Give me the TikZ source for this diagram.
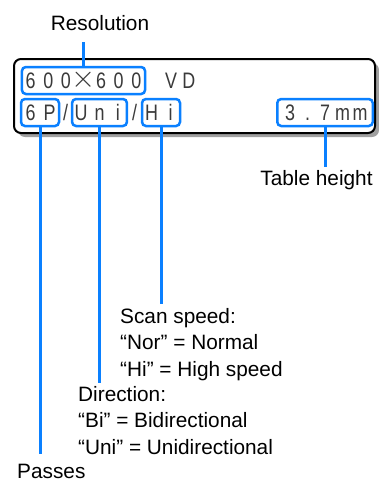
\documentclass[tikz,border=0pt]{standalone}
\usepackage{fontspec}
\setmainfont{Liberation Sans}
\newfontfamily\lcdfont[FakeStretch=0.8]{Liberation Sans}
\usetikzlibrary{positioning,shadows}
\definecolor{lcdBlue}{HTML}{0A80FF}
\definecolor{lcdInk}{HTML}{3A3A3A}
\definecolor{lcdShadow}{HTML}{A0A0A0}
% fixed-pitch cells for the display characters
\newlength\lcdpitch
\def\lcdrun#1{\ifx#1\relax\else\makebox[\lcdpitch]{#1}\expandafter\lcdrun\fi}
\newcommand\lcdtext[2]{\setlength\lcdpitch{#1pt}\lcdrun#2\relax}
\newcommand\lcdtimes{\raisebox{1pt}{\scalebox{1.5}{$\times$}}}
\tikzset{
  panel/.style={draw=black, line width=2pt, fill=white, rounded corners=7pt,
    minimum width=361pt, minimum height=74pt,
    drop shadow={shadow xshift=4pt, shadow yshift=-4pt, fill=lcdShadow, opacity=1}},
  lcd plain/.style={text=lcdInk, font=\lcdfont\fontsize{22.4}{22.4}\selectfont,
    inner sep=0pt, text height=16pt, text depth=0pt},
  lcd box/.style={lcd plain, draw=lcdBlue, line width=2.5pt,
    rounded corners=4pt, minimum height=27pt},
  lead/.style={draw=lcdBlue, line width=3pt},
  callout/.style={inner sep=0pt, align=left,
    font=\fontsize{20.8}{26.7}\selectfont}
}
\begin{document}
\begin{tikzpicture}[x=1pt, y=-1pt]
  \useasboundingbox (0,0) rectangle (378,482);
  % display panel
  \node[panel] (lcd) at (194.5,96) {};
  \node[lcd box, minimum width=123pt] (res600) at (83.5,80.5) {\lcdtext{17.6}{600\lcdtimes600}};
  \node[lcd plain] (vd) at (180,80.5) {\lcdtext{17.6}{VD}};
  \node[lcd box] (passbox) at (40,112.5) {\lcdtext{19}{6P}};
  \node[lcd plain] (slashA) at (65.5,112.5) {/};
  \node[lcd box] (dirbox) at (99.5,112.5) {\lcdtext{18.3}{Uni}};
  \node[lcd plain] (slashB) at (134.5,112.5) {/};
  \node[lcd box] (speedbox) at (161,112.5) {\lcdtext{19}{Hi}};
  \node[lcd box, inner xsep=4pt] (tablebox) at (325,112.5) {\lcdtext{17.5}{3.7mm}};
  % callouts
  \node[callout, anchor=base, outer ysep=12pt] (resolution) at (100,30) {Resolution};
  \node[callout, anchor=base, outer ysep=3pt] (tableheight) at (316.5,185) {Table height};
  \node[callout, anchor=north west, outer ysep=4pt] (scan) at (120,304)
    {Scan speed:\\“Nor” = Normal\\“Hi” = High speed};
  \node[callout, anchor=north west, outer ysep=3.5pt] (direction) at (78,382.5)
    {Direction:\\“Bi” = Bidirectional\\“Uni” = Unidirectional};
  \node[callout, anchor=base west, outer ysep=10pt] (passes) at (17,478) {Passes};
  \draw[lead] (res600.north) -- (res600.north |- resolution.south);
  \draw[lead] (passbox.south) -- (passbox.south |- passes.north);
  \draw[lead] (dirbox.south) -- (dirbox.south |- direction.north);
  \draw[lead] (speedbox.south) -- (speedbox.south |- scan.north);
  \draw[lead] (tablebox.south) -- (tablebox.south |- tableheight.north);
\end{tikzpicture}
\end{document}
